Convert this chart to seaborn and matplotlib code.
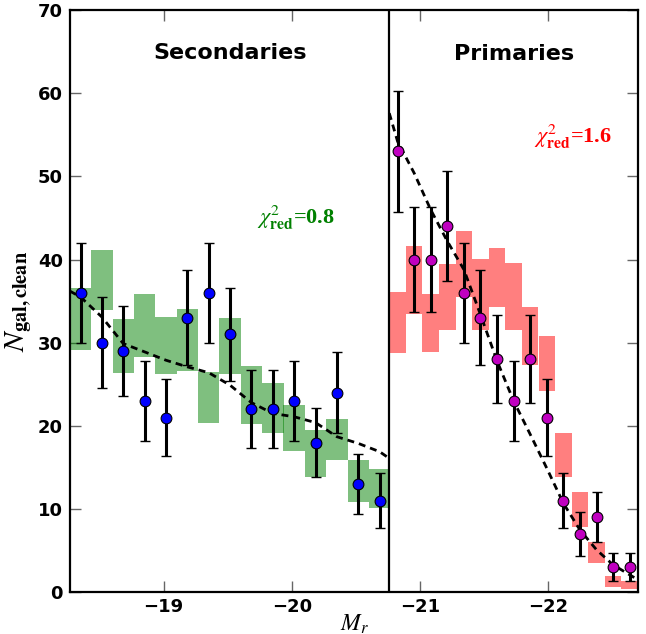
import numpy as np
import pandas as pd
import matplotlib
matplotlib.use("Agg")
import matplotlib.pyplot as plt
import seaborn as sns

# ---------------- data ----------------
sec_x = [-18.352, -18.518, -18.685, -18.852, -19.018, -19.185, -19.352, -19.518,
         -19.685, -19.852, -20.018, -20.185, -20.352, -20.518, -20.685]
sec_n = [36, 30, 29, 23, 21, 33, 36, 31, 22, 22, 23, 18, 24, 13, 11]
sec_err = [6.0, 5.5, 5.4, 4.8, 4.6, 5.7, 6.0, 5.6, 4.7, 4.7, 4.8, 4.2, 4.9, 3.6, 3.3]
sec_lo = [29.1, 33.9, 26.4, 28.3, 26.2, 26.6, 20.3, 26.2, 20.2, 19.2, 17.0, 13.9, 15.9, 10.8, 10.1]
sec_hi = [36.6, 41.2, 32.9, 35.8, 33.1, 34.1, 26.5, 33.0, 27.2, 25.1, 22.5, 19.5, 20.8, 15.9, 14.8]
sec_width = 0.1667
sec_model_x = [-18.27, -18.352, -18.518, -18.685, -18.852, -19.018, -19.185, -19.352,
               -19.518, -19.685, -19.852, -20.018, -20.185, -20.352, -20.518, -20.685, -20.76]
sec_model_y = [36.2, 35.5, 33.1, 29.9, 28.9, 27.9, 27.1, 26.4,
               24.9, 22.8, 21.5, 21.1, 20.4, 18.7, 17.9, 16.9, 16.1]

pri_x = [-20.825, -20.954, -21.083, -21.213, -21.342, -21.471, -21.601, -21.730,
         -21.859, -21.989, -22.118, -22.247, -22.377, -22.506, -22.635]
pri_n = [53, 40, 40, 44, 36, 33, 28, 23, 28, 21, 11, 7, 9, 3, 3]
pri_err = [7.3, 6.3, 6.3, 6.6, 6.0, 5.7, 5.3, 4.8, 5.3, 4.6, 3.3, 2.6, 3.0, 1.7, 1.7]
pri_lo = [28.8, 33.5, 28.9, 31.5, 35.5, 31.5, 34.3, 31.5, 27.3, 24.2, 13.8, 7.8, 3.5, 0.6, 0.4]
pri_hi = [36.1, 41.6, 35.9, 39.5, 43.4, 40.1, 41.4, 39.6, 34.3, 30.8, 19.2, 12.0, 6.0, 2.0, 1.4]
pri_width = 0.1293
pri_model_x = [-20.76, -20.825, -20.954, -21.083, -21.213, -21.342, -21.471, -21.601,
               -21.730, -21.859, -21.989, -22.118, -22.247, -22.377, -22.506, -22.635, -22.70]
pri_model_y = [57.6, 54.2, 50.4, 46.0, 42.2, 38.8, 33.4, 27.8,
               23.0, 19.0, 14.9, 10.7, 7.5, 5.1, 3.3, 2.1, 1.5]

divider_x = -20.76
xticks = [-19, -20, -21, -22]
yticks = [0, 10, 20, 30, 40, 50, 60, 70]

# ---------------- style ----------------
sns.set_theme(style="ticks")
plt.rcParams['font.family'] = ['DejaVu Sans']
plt.rcParams['mathtext.fontset'] = 'stix'

fig = plt.figure(figsize=(6.46, 6.34), dpi=100)
ax = fig.add_axes([0.1084, 0.0658, 0.8792, 0.9184])

# model ranges (boxes)
ax.bar(sec_x, np.array(sec_hi) - np.array(sec_lo), bottom=sec_lo, width=sec_width,
       color='green', alpha=0.5, linewidth=0, zorder=1)
ax.bar(pri_x, np.array(pri_hi) - np.array(pri_lo), bottom=pri_lo, width=pri_width,
       color='red', alpha=0.5, linewidth=0, zorder=1)

# model lines
df_sm = pd.DataFrame({'x': sec_model_x, 'y': sec_model_y})
df_pm = pd.DataFrame({'x': pri_model_x, 'y': pri_model_y})
n_before = len(ax.lines)
sns.lineplot(data=df_sm, x='x', y='y', ax=ax, color='black',
             linewidth=2, sort=False, zorder=2)
sns.lineplot(data=df_pm, x='x', y='y', ax=ax, color='black',
             linewidth=2, sort=False, zorder=2)
for ln in ax.lines[n_before:]:
    ln.set_linestyle((0, (2.5, 1.8)))

# error bars
ax.errorbar(sec_x, sec_n, yerr=sec_err, fmt='none', ecolor='black', elinewidth=2.2,
            capsize=3.5, capthick=1, zorder=3)
ax.errorbar(pri_x, pri_n, yerr=pri_err, fmt='none', ecolor='black', elinewidth=2.2,
            capsize=3.5, capthick=1, zorder=3)

# points
df_s = pd.DataFrame({'x': sec_x, 'y': sec_n})
df_p = pd.DataFrame({'x': pri_x, 'y': pri_n})
sns.scatterplot(data=df_s, x='x', y='y', ax=ax, color='#0000ff', edgecolor='black',
                linewidth=0.8, s=60, zorder=4)
sns.scatterplot(data=df_p, x='x', y='y', ax=ax, color='#c000c0', edgecolor='black',
                linewidth=0.8, s=60, zorder=4)

ax.axvline(divider_x, color='black', linewidth=1.6, zorder=5)

ax.set_xlim(-18.27, -22.70)
ax.set_ylim(0, 70)
ax.set_xticks(xticks)
ax.set_yticks(yticks)
ax.set_xticklabels([f'\u2212{abs(t)}' for t in xticks], fontsize=13,
                   fontweight='bold', color='black')
ax.set_yticklabels([str(t) for t in yticks], fontsize=13, fontweight='bold',
                   color='black')
ax.tick_params(axis='y', direction='in', length=8, width=1, color='#666666',
               left=True, right=True, pad=5)
ax.tick_params(axis='x', direction='in', length=8, width=1, color='#666666',
               bottom=True, top=True, pad=4)
for sp in ax.spines.values():
    sp.set_linewidth(1.6)
    sp.set_color('black')

ax.set_xlabel(r'$M_r$', fontsize=17, labelpad=-3, color='black')
ax.set_ylabel(r'$N_{\mathbf{gal,clean}}$', fontsize=21, labelpad=3, color='black')

ax.text(-19.515, 64.8, 'Secondaries', ha='center', va='center', fontsize=16,
        fontweight='bold', color='black')
ax.text(-21.73, 64.7, 'Primaries', ha='center', va='center', fontsize=16,
        fontweight='bold', color='black')
ax.text(-20.03, 45.0, r'$\chi^2_{\mathbf{red}}$' + '=0.8', ha='center', va='center',
        fontsize=16, fontweight='bold', color='green', family='Liberation Serif')
ax.text(-22.19, 54.8, r'$\chi^2_{\mathbf{red}}$' + '=1.6', ha='center', va='center',
        fontsize=16, fontweight='bold', color='red', family='Liberation Serif')

fig.savefig('out.png', dpi=100)
